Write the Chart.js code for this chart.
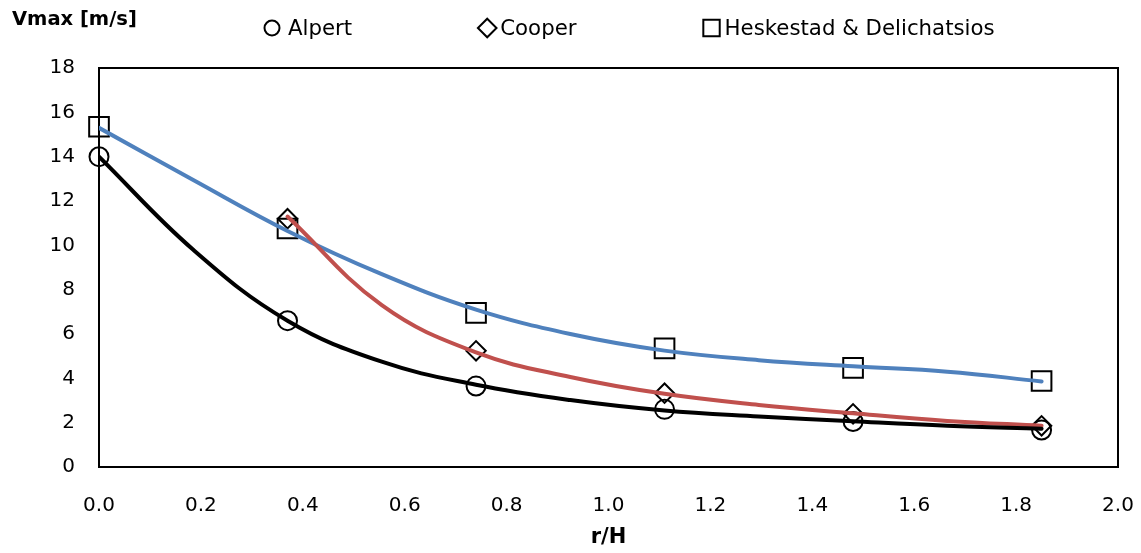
<!DOCTYPE html>
<html>
<head>
<meta charset="utf-8">
<title>Vmax vs r/H</title>
<script src="https://cdn.jsdelivr.net/npm/chart.js"></script>
<style>
  body { margin: 0; background: #fff; }
  canvas { display: block; }
</style>
</head>
<body>
<canvas id="vmaxChart" width="1141" height="553"></canvas>
<script>
// measured points (r/H)
const rH = [0, 0.37, 0.74, 1.11, 1.48, 1.85];
const alpert = [14.0, 6.6, 3.65, 2.6, 2.05, 1.67];
const cooper = [null, 11.2, 5.24, 3.33, 2.4, 1.86];
const heskestad = [15.35, 10.76, 6.95, 5.35, 4.47, 3.88];

// trend curves, sampled every half step
const fitX = [0, 0.185, 0.37, 0.555, 0.74, 0.925, 1.11, 1.295, 1.48, 1.665, 1.85];
const alpertFit = [14.0, 9.8, 6.6, 4.75, 3.71, 3.02, 2.55, 2.28, 2.06, 1.86, 1.73];
const cooperFit = [null, null, 11.3, 7.3, 5.17, 4.06, 3.3, 2.8, 2.42, 2.08, 1.86];
const heskestadFit = [15.3, 12.95, 10.65, 8.7, 7.1, 6.0, 5.25, 4.82, 4.54, 4.3, 3.86];

const xLimits = [0, 2];
const yLimits = [0, 18];

Chart.defaults.font.family = '"DejaVu Sans", sans-serif';
Chart.defaults.color = '#000';

function points(xs, ys) {
    return xs.map((x, i) => ({ x: x, y: ys[i] })).filter(p => p.y !== null);
}

function markerSet(label, ys, style, radius) {
    return {
        label: label,
        data: points(rH, ys),
        pointStyle: style,
        pointRadius: radius,
        pointHoverRadius: radius,
        pointBorderWidth: 2,
        pointBorderColor: '#000',
        pointBackgroundColor: 'rgba(0,0,0,0)',
        showLine: false,
        clip: false,
        order: 1
    };
}

function trendSet(ys, color) {
    return {
        label: '',
        data: points(fitX, ys),
        showLine: true,
        borderColor: color,
        borderWidth: 4,
        borderCapStyle: 'round',
        pointRadius: 0,
        tension: 0.4,
        fill: false,
        isTrend: true,
        order: 0
    };
}

// plot frame, y title and legend row
const frameAndLegend = {
    id: 'frameAndLegend',
    beforeDatasetsDraw(chart) {
        const { ctx, chartArea: a } = chart;
        ctx.save();
        ctx.strokeStyle = '#000';
        ctx.lineWidth = 2;
        ctx.strokeRect(a.left, a.top, a.right - a.left, a.bottom - a.top);
        ctx.restore();
    },
    afterDraw(chart) {
        const ctx = chart.ctx;
        ctx.save();
        ctx.fillStyle = '#000';
        ctx.strokeStyle = '#000';
        ctx.lineWidth = 2;
        ctx.textBaseline = 'alphabetic';
        ctx.font = 'bold 19.5px "DejaVu Sans"';
        ctx.fillText('Vmax [m/s]', 12, 25);

        ctx.font = '21.3px "DejaVu Sans"';
        const offsets = { circle: 16, rectRot: 13, rect: 13 };
        let textX = 288;
        const my = 28;
        chart.data.datasets.filter(ds => !ds.isTrend).forEach(ds => {
            const mx = textX - offsets[ds.pointStyle];
            ctx.beginPath();
            if (ds.pointStyle === 'circle') {
                ctx.arc(mx, my, 7.5, 0, Math.PI * 2);
            } else if (ds.pointStyle === 'rectRot') {
                ctx.moveTo(mx, my - 9.3);
                ctx.lineTo(mx + 9.3, my);
                ctx.lineTo(mx, my + 9.3);
                ctx.lineTo(mx - 9.3, my);
                ctx.closePath();
            } else {
                ctx.rect(mx - 8.2, my - 8.2, 16.4, 16.4);
            }
            ctx.stroke();
            ctx.fillText(ds.label, textX, 35);
            textX += ctx.measureText(ds.label).width + 148;
        });
        ctx.restore();
    }
};

const ctx = document.getElementById('vmaxChart').getContext('2d');

const vmaxChart = new Chart(ctx, {
    type: 'scatter',
    data: {
        datasets: [
            markerSet('Alpert', alpert, 'circle', 9.5),
            markerSet('Cooper', cooper, 'rectRot', 9.7),
            markerSet('Heskestad & Delichatsios', heskestad, 'rect', 13.9),
            trendSet(alpertFit, '#000000'),
            trendSet(cooperFit, '#C0504D'),
            trendSet(heskestadFit, '#4F81BD')
        ]
    },
    options: {
        responsive: false,
        animation: false,
        layout: { padding: { top: 68, right: 23, left: 0, bottom: 0 } },
        plugins: {
            legend: { display: false },
            tooltip: { enabled: false }
        },
        scales: {
            x: {
                type: 'linear',
                min: xLimits[0],
                max: xLimits[1],
                // tick marks hidden, but their length keeps the labels clear of the axis
                grid: { display: false, drawTicks: true, tickLength: 24 },
                border: { display: false },
                ticks: {
                    stepSize: 0.2,
                    padding: 3,
                    font: { size: 20 },
                    callback: v => v.toFixed(1)
                },
                title: {
                    display: true,
                    text: 'r/H',
                    font: { size: 21, weight: 'bold' },
                    padding: { top: 0, bottom: 3 }
                },
                afterFit: scale => { scale.height = 86; }
            },
            y: {
                min: yLimits[0],
                max: yLimits[1],
                grid: { display: false, drawTicks: false },
                border: { display: false },
                ticks: {
                    stepSize: 2,
                    padding: 24,
                    font: { size: 20 }
                },
                afterFit: scale => { scale.width = 99; }
            }
        }
    },
    plugins: [frameAndLegend]
});
</script>
</body>
</html>
